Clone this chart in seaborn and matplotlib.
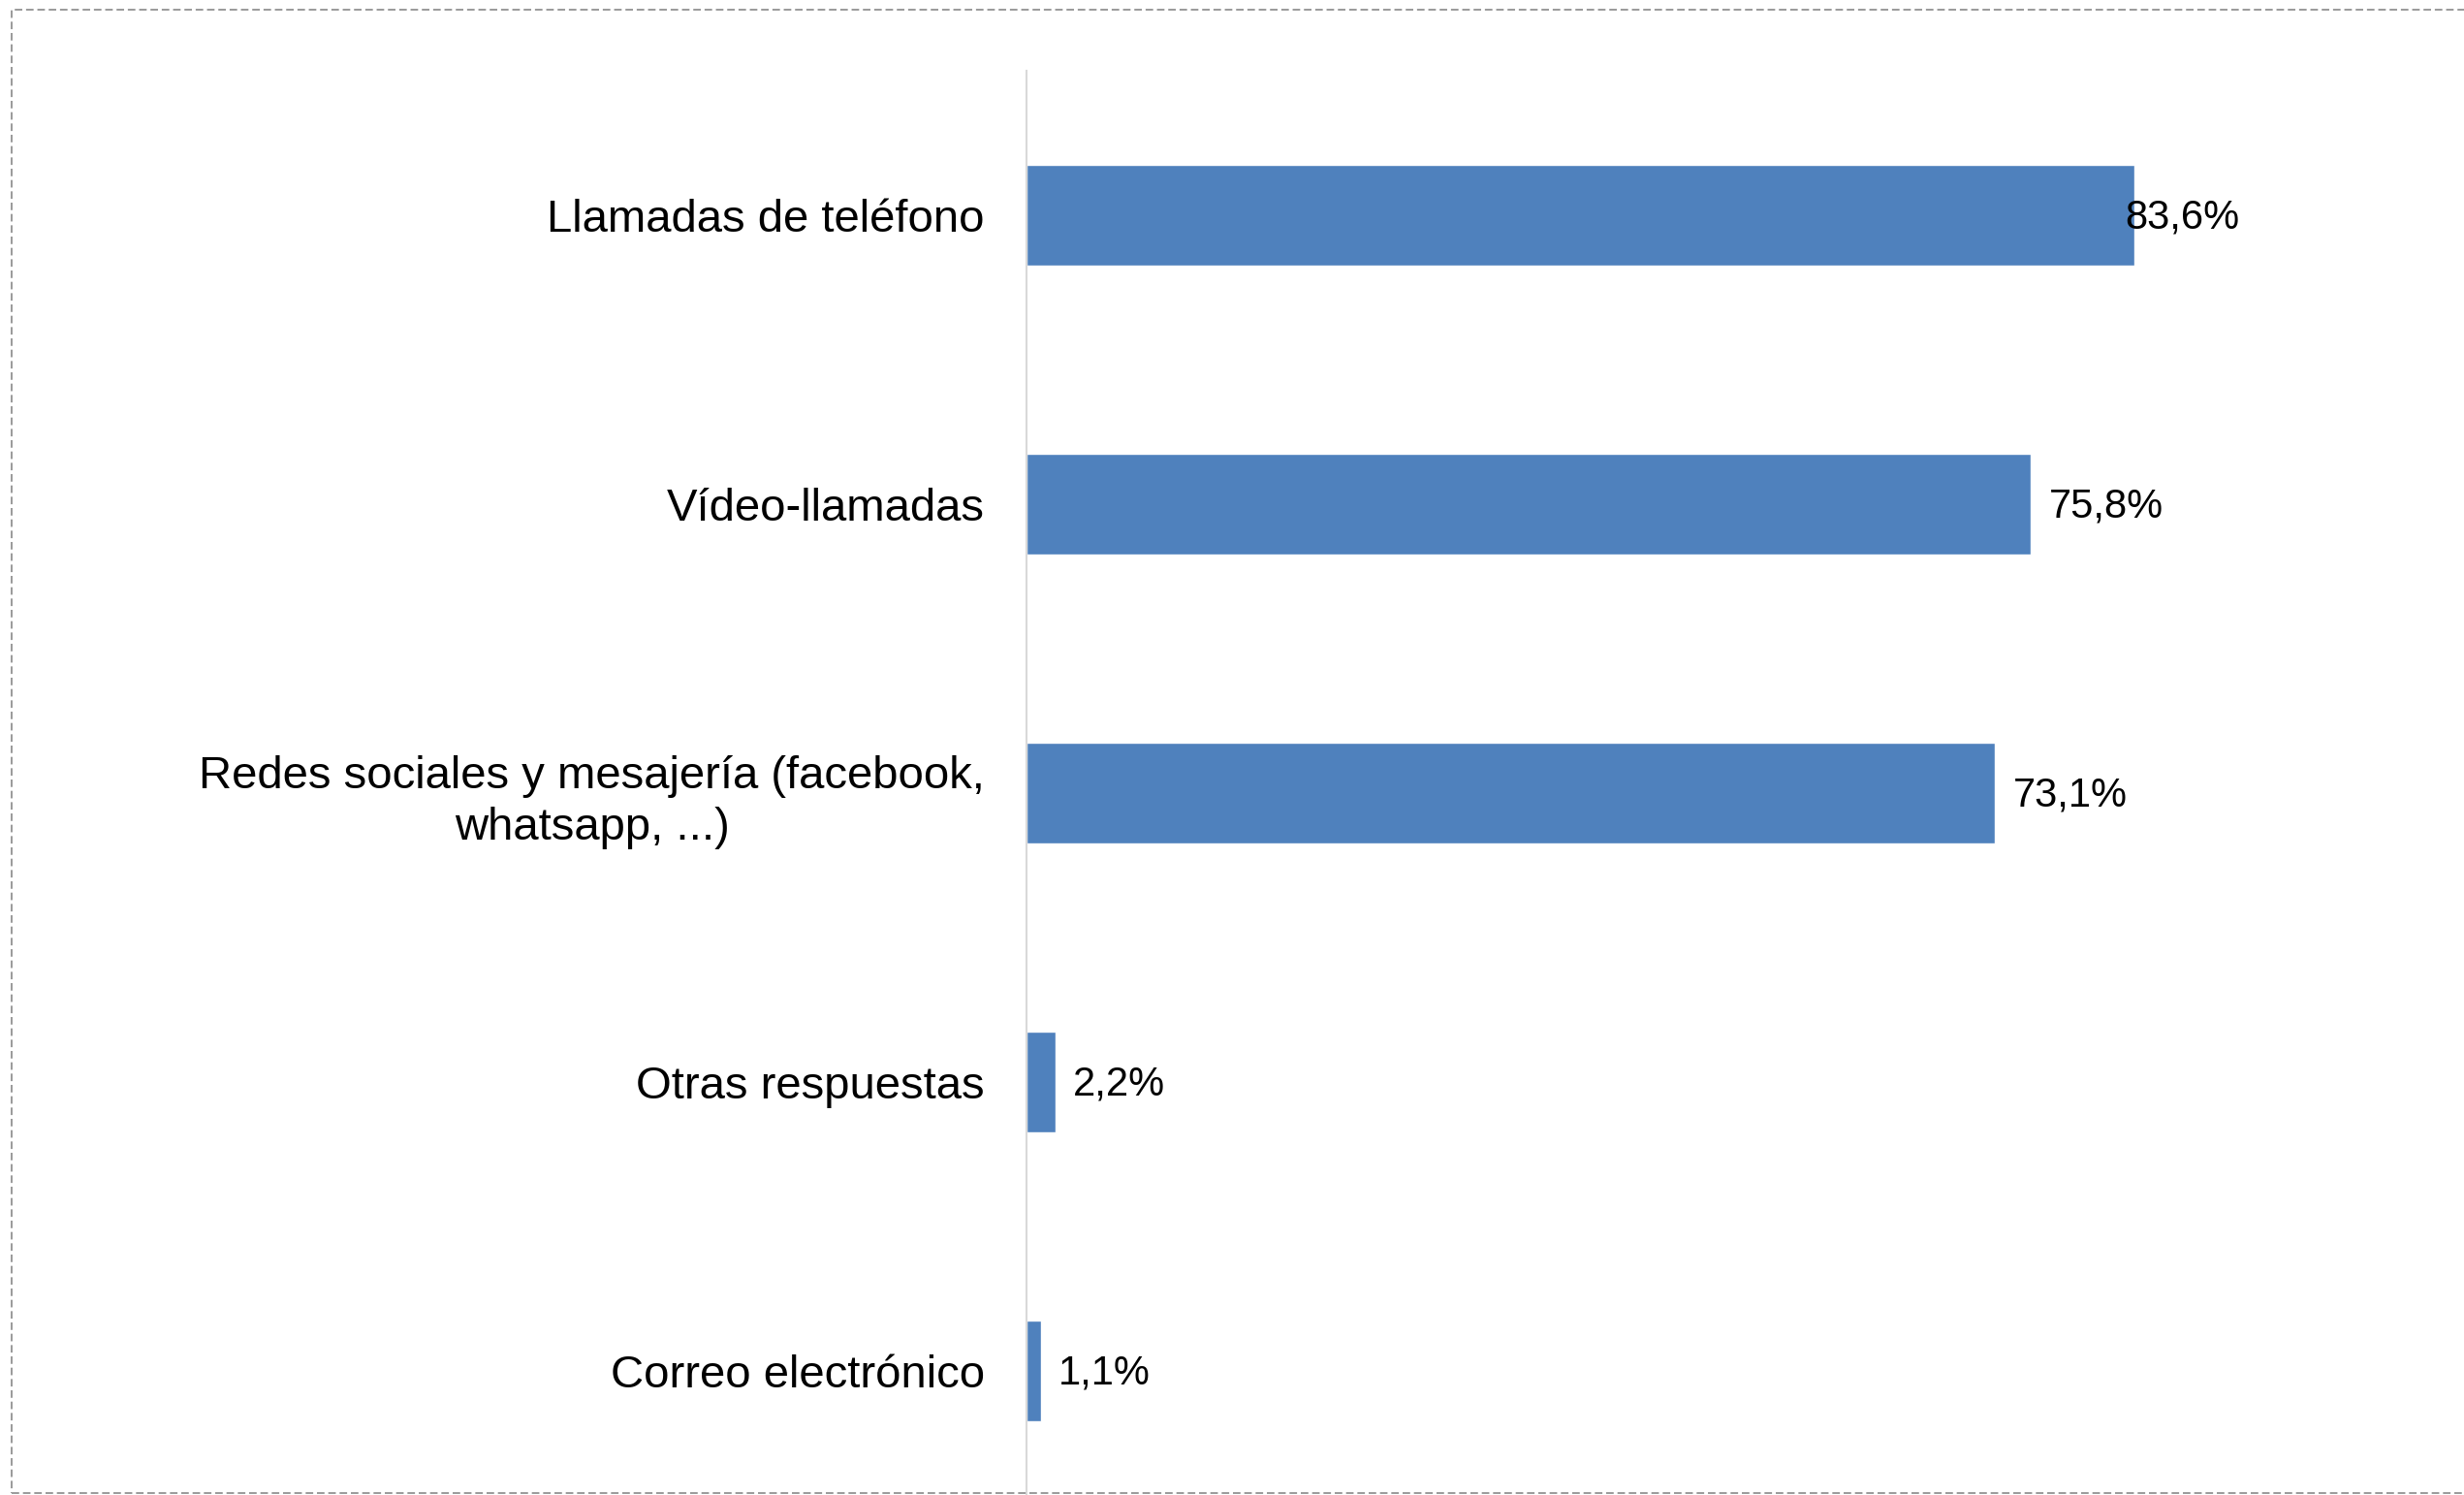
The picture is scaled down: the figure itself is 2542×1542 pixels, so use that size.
import pandas as pd
import matplotlib
matplotlib.use('Agg')
import matplotlib.pyplot as plt
from matplotlib.patches import Rectangle
import seaborn as sns

categorias = ['Llamadas de teléfono', 'Vídeo-llamadas',
              'Redes sociales y mesajería (facebook,\nwhatsapp, ...)',
              'Otras respuestas', 'Correo electrónico']
valores = [83.6, 75.8, 73.1, 2.2, 1.1]
etiquetas = ['83,6%', '75,8%', '73,1%', '2,2%', '1,1%']

df = pd.DataFrame({'Medio': categorias, 'Porcentaje': valores})

sns.set_style('white')
plt.rcParams['font.family'] = ['Liberation Sans', 'DejaVu Sans']

W, H = 2542, 1542
fig = plt.figure(figsize=(W / 100, H / 100), dpi=100)
ax = fig.add_axes([1059 / W, 0, (2310 - 1059) / W, (H - 73) / H])

sns.barplot(data=df, x='Porcentaje', y='Medio', orient='h', color='#4F81BD',
            saturation=1, width=0.352, ax=ax)

ax.set_xlim(0, 91.5)
ax.set_ylim((H - 73) / 298 - 0.5, -0.5)
ax.set_xlabel('')
ax.set_ylabel('')
ax.set_xticks([])
for s in ['top', 'right', 'bottom']:
    ax.spines[s].set_visible(False)
ax.spines['left'].set_color('#D9D9D9')
ax.spines['left'].set_linewidth(1.5)
ax.tick_params(axis='y', length=0, pad=31, labelsize=34, labelcolor='black')
for t in ax.get_yticklabels():
    t.set_multialignment('center')
    t.set_linespacing(1.25)

textos = []
for i, (v, lab) in enumerate(zip(valores, etiquetas)):
    t = ax.annotate(lab, xy=(v, i), xytext=(13, -1.5), textcoords='offset points',
                    ha='left', va='center', fontsize=30, color='black')
    textos.append(t)

# Etiquetas que se salen del área del gráfico se ajustan al borde derecho
fig.canvas.draw()
r = fig.canvas.get_renderer()
ax_bb = ax.get_window_extent(r)
for t in textos:
    bb = t.get_window_extent(r)
    if bb.x1 > ax_bb.x1:
        t.xy = (ax.get_xlim()[1], t.xy[1])
        t.set_position((0, -1.5))
        t.set_ha('right')

# Marco punteado del gráfico
fig.add_artist(Rectangle((12 / W, 2 / H), 1.0, (H - 12) / H, transform=fig.transFigure,
                         fill=False, edgecolor='#9A9A9A', linewidth=1.4,
                         linestyle=(0, (4, 2))))

fig.savefig('out.png', dpi=100)
